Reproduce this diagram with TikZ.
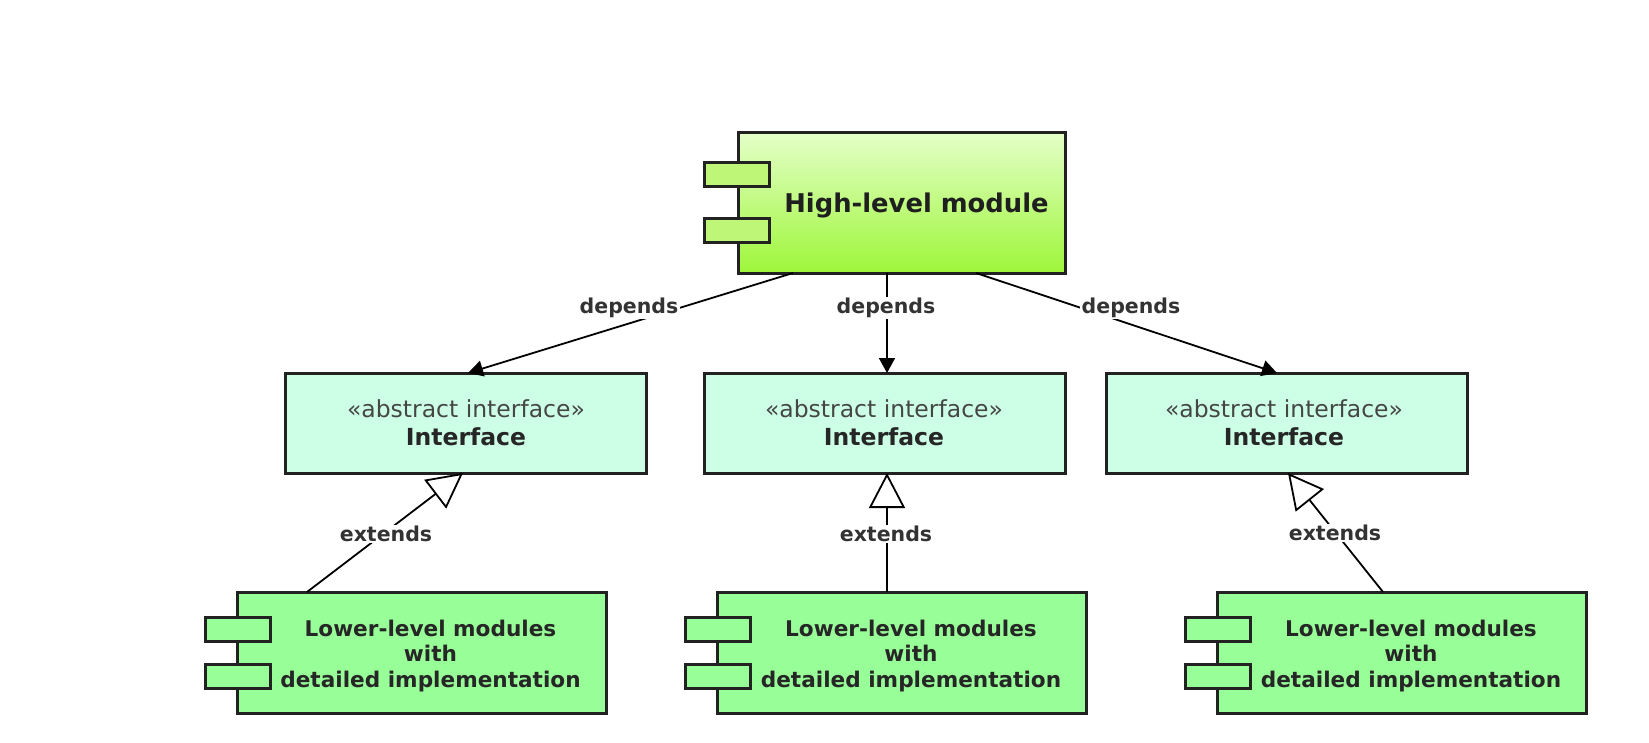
\documentclass[tikz,border=0pt]{standalone}
\usepackage{fontspec}
\setmainfont{DejaVu Sans}
\usetikzlibrary{arrows.meta,calc}
\definecolor{bordc}{RGB}{34,34,34}
\definecolor{hitop}{RGB}{228,255,200}
\definecolor{hibot}{RGB}{158,246,58}
\definecolor{hiport}{RGB}{190,246,120}
\definecolor{lowfill}{RGB}{152,255,152}
\definecolor{ifill}{RGB}{204,255,230}
\definecolor{labc}{RGB}{51,51,51}
\definecolor{stereoc}{RGB}{70,70,70}
\tikzset{
  box/.style={draw=bordc,line width=3pt,rectangle,inner sep=0pt,outer sep=0pt},
  portbox/.style={draw=bordc,line width=3pt,rectangle,inner sep=0pt,outer sep=0pt,minimum width=65pt,minimum height=24pt},
  lbl/.style={fill=white,inner sep=1.5pt,text=labc,font=\fontsize{20.5}{24}\selectfont\bfseries},
  conn/.style={draw=black,line width=1.8pt},
  dep/.style={conn,-{Triangle[length=15pt,width=16pt]}},
  ext/.style={conn,-{Triangle[length=35pt,width=36pt,fill=white]}},
  lowtxt/.style={align=center,text=black!85,font=\fontsize{21.6}{25.5}\selectfont\bfseries},
  stxt/.style={inner sep=0pt,text=stereoc,font=\fontsize{23.5}{28}\selectfont},
  ntxt/.style={inner sep=0pt,text=black!85,font=\fontsize{23.5}{28}\selectfont\bfseries},
}
\begin{document}
\begin{tikzpicture}[x=1pt,y=-1pt]
\useasboundingbox (0,0) rectangle (1649,742);
% high-level module
\node[box,top color=hitop,bottom color=hibot,minimum width=327pt,minimum height=141pt] (high) at (901.5,202.5) {};
\node[portbox,fill=hiport] (hp1) at (737,174.5) {};
\node[portbox,fill=hiport] (hp2) at (737,230.5) {};
\node[text=black!88,font=\fontsize{25.8}{30}\selectfont\bfseries] (htxt) at (916.5,205) {High-level module};
% interfaces
\foreach \n/\cx/\tx in {il/465.5/466,im/885/884,ir/1286.5/1284}{
  \node[box,fill=ifill,minimum width=361pt,minimum height=100pt] (\n) at (\cx,423) {};
  \node[stxt] (\n s) at (\tx,409) {«abstract interface»};
  \node[ntxt] (\n t) at (\tx,437) {Interface};
}
% lower-level modules
\foreach \n/\cx/\px/\tx in {ll/421.5/237.5/430.5,lm/902/717.5/911,lr/1401.5/1218/1411}{
  \node[box,fill=lowfill,minimum width=369pt,minimum height=121pt] (\n) at (\cx,652.5) {};
  \node[portbox,fill=lowfill] (\n p1) at (\px,629) {};
  \node[portbox,fill=lowfill] (\n p2) at (\px,676.5) {};
  \node[lowtxt] (\n txt) at (\tx,656) {Lower-level modules\\with\\detailed implementation};
}
% depends connectors
\draw[dep] ($(high.south west)+(55,0)$) -- ($(il.north)+(2.5,0)$);
\draw[dep] ($(high.south west)+(149,0)$) -- ($(im.north)+(2,0)$);
\draw[dep] ($(high.south west)+(238,0)$) -- ($(ir.north)+(-9.5,0)$);
\node[lbl] (d1) at (629,308) {depends};
\node[lbl] (d2) at (886,308) {depends};
\node[lbl] (d3) at (1131,308) {depends};
% extends connectors
\draw[ext] ($(ll.north west)+(70,0)$) -- ($(il.south)+(-2.5,0)$);
\draw[ext] ($(lm.north west)+(169.5,0)$) -- ($(im.south)+(2,0)$);
\draw[ext] ($(lr.north west)+(166,0)$) -- ($(ir.south)+(1.5,0)$);
\node[lbl] (e1) at (386,534) {extends};
\node[lbl] (e2) at (886,534) {extends};
\node[lbl] (e3) at (1335,533) {extends};
\end{tikzpicture}
\end{document}
